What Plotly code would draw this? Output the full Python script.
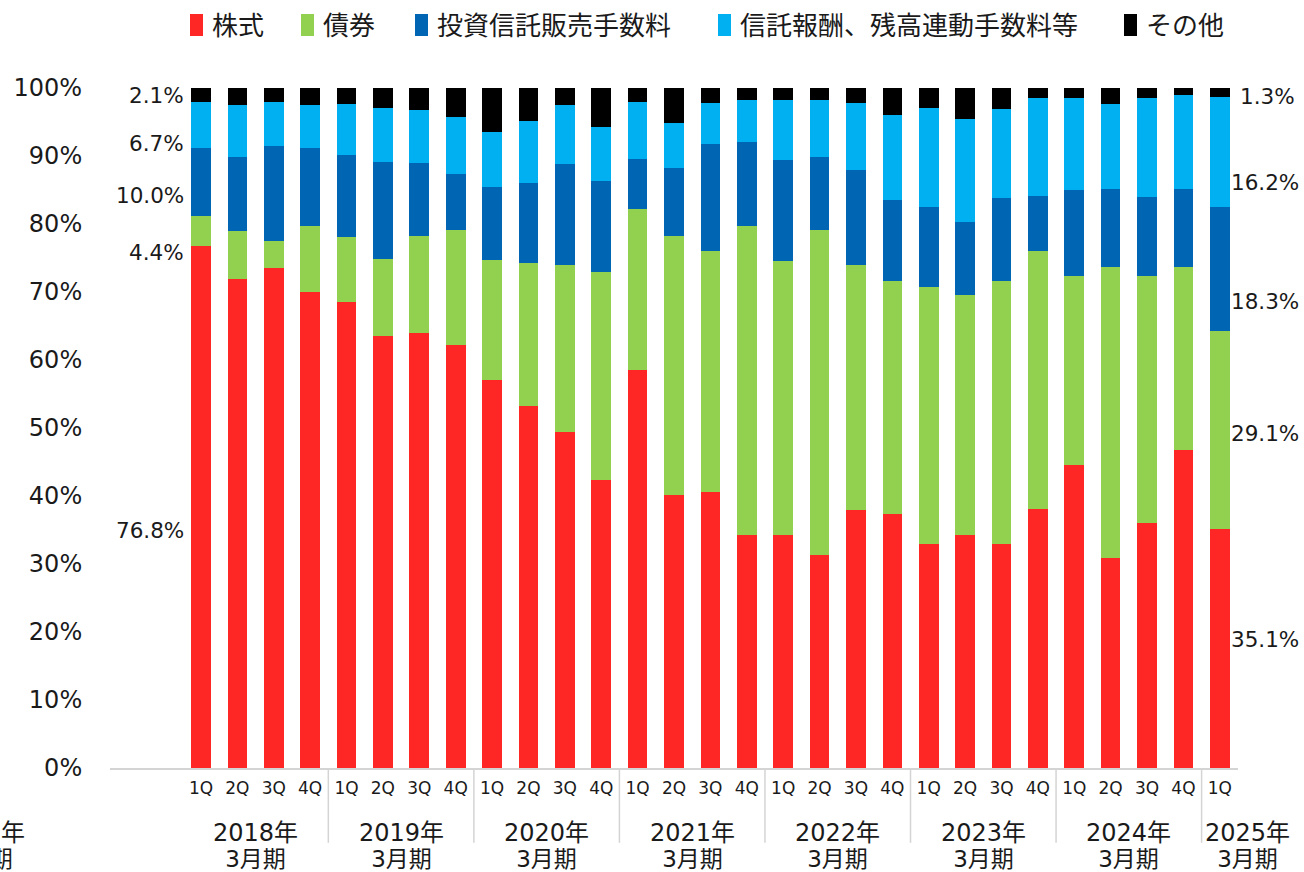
import plotly.graph_objects as go

# ---- data ----
fiscal_years = ["2018年", "2019年", "2020年", "2021年", "2022年", "2023年", "2024年", "2025年"]
quarters_per_year = [4, 4, 4, 4, 4, 4, 4, 1]
quarter_names = ["1Q", "2Q", "3Q", "4Q"]
period_suffix = "3月期"

series_names = ["株式", "債券", "投資信託販売手数料", "信託報酬、残高連動手数料等", "その他"]
series_colors = ["#FF2626", "#92D050", "#0066B3", "#00B0F0", "#000000"]

stocks = [76.8, 71.9, 73.5, 70.0, 68.5, 63.6, 63.9, 62.2, 57.1, 53.3, 49.4, 42.4, 58.5, 40.1, 40.6,
          34.2, 34.3, 31.3, 38.0, 37.4, 33.0, 34.2, 33.0, 38.1, 44.5, 30.9, 36.0, 46.8, 35.1]
bonds = [4.4, 7.1, 4.0, 9.7, 9.6, 11.3, 14.3, 16.9, 17.6, 21.0, 24.6, 30.6, 23.7, 38.2, 35.5,
         45.5, 40.2, 47.8, 36.0, 34.2, 37.8, 35.4, 38.6, 37.9, 27.8, 42.8, 36.4, 26.9, 29.1]
sales_fees = [10.0, 10.8, 13.9, 11.5, 12.0, 14.2, 10.8, 8.3, 10.8, 11.7, 14.8, 13.3, 7.3, 9.9, 15.6,
              12.4, 14.9, 10.8, 13.9, 11.9, 11.7, 10.7, 12.2, 8.1, 12.7, 11.5, 11.5, 11.4, 18.3]
trust_fees = [6.7, 7.7, 6.5, 6.3, 7.5, 7.9, 7.8, 8.3, 8.1, 9.2, 8.7, 8.0, 8.4, 6.6, 6.1,
              6.1, 8.8, 8.3, 9.9, 12.5, 14.5, 15.1, 13.1, 14.5, 13.5, 12.5, 14.7, 13.8, 16.2]
other = [2.1, 2.5, 2.1, 2.5, 2.4, 3.0, 3.2, 4.3, 6.4, 4.8, 2.5, 5.7, 2.1, 5.2, 2.2,
         1.8, 1.8, 1.8, 2.2, 4.0, 3.0, 4.6, 3.1, 1.4, 1.5, 2.3, 1.4, 1.1, 1.3]

y_tick_values = [0, 10, 20, 30, 40, 50, 60, 70, 80, 90, 100]
y_tick_labels = [f"{v}%" for v in y_tick_values]

# ---- build layout helpers ----
series_values = [stocks, bonds, sales_fees, trust_fees, other]
quarters = []
bar_year = []
for fy, nq in zip(fiscal_years, quarters_per_year):
    for q in quarter_names[:nq]:
        quarters.append(q)
        bar_year.append(fy)

n_empty = 2
positions = [n_empty + i for i in range(len(quarters))]
bar_width = 0.54

FONT = "DejaVu Sans, Noto Sans CJK JP, sans-serif"
JFONT = "Noto Sans CJK JP, DejaVu Sans, sans-serif"
TXT = "#1a1a1a"

fig = go.Figure()
for name, vals, col in zip(series_names, series_values, series_colors):
    fig.add_trace(go.Bar(
        x=positions, y=vals, name=name, width=bar_width,
        marker=dict(color=col, line=dict(width=0)),
        hoverinfo="name+y",
    ))

annotations = []
shapes = []

# data labels for first and last bars
left_shift = [-24, -22, -14, -18, 0]
right_shift = [9, -3, -32, -31, -4]
right_x = [1, 1, 1, 1, 10]
for side in ("left", "right"):
    idx = 0 if side == "left" else len(positions) - 1
    cum = 0.0
    for k, vals in enumerate(series_values):
        v = vals[idx]
        mid = cum + v / 2
        cum += v
        if side == "left":
            annotations.append(dict(
                x=positions[idx] - bar_width / 2, y=mid, xref="x", yref="y",
                text=f"{v:.1f}%", showarrow=False, xanchor="right", yanchor="middle",
                xshift=-5, yshift=left_shift[k], font=dict(family=FONT, size=21.5, color=TXT)))
        else:
            annotations.append(dict(
                x=positions[idx] + bar_width / 2, y=mid, xref="x", yref="y",
                text=f"{v:.1f}%", showarrow=False, xanchor="left", yanchor="middle",
                xshift=right_x[k] - 2, yshift=right_shift[k], font=dict(family=FONT, size=21.5, color=TXT)))


def period_label(fy):
    return (f"<span style='font-size:24px'>{fy}</span><br>"
            f"<span style='font-size:23px'>{period_suffix}</span>")


# year group labels and dividers
for gi, fy in enumerate(fiscal_years):
    pos = [p for p, y in zip(positions, bar_year) if y == fy]
    center = sum(pos) / len(pos)
    xs = 28 if len(pos) == 1 else 0
    annotations.append(dict(x=center, y=-0.114, xref="x", yref="paper", text=period_label(fy),
                            showarrow=False, xanchor="center", yanchor="middle", xshift=xs,
                            borderpad=0, font=dict(family=FONT, size=20, color=TXT)))
    if gi < len(fiscal_years) - 1:
        bx = max(pos) + 0.5
        shapes.append(dict(type="line", xref="x", yref="paper", x0=bx, x1=bx, y0=-0.003, y1=-0.11,
                           line=dict(color="#d4d4d4", width=1.5)))

# cropped previous-period label at far left
annotations.append(dict(x=-0.1126, y=-0.114, xref="paper", yref="paper", text=period_label("2017年"),
                        showarrow=False, xanchor="center", yanchor="middle", borderpad=0,
                        font=dict(family=FONT, size=20, color=TXT)))

# manual legend
legend_px = [190, 301, 415, 718, 1124]
for name, col, px in zip(series_names, series_colors, legend_px):
    x0 = (px - 110) / 1128
    x1 = (px + 13 - 110) / 1128
    shapes.append(dict(type="rect", xref="paper", yref="paper", x0=x0, x1=x1,
                       y0=(768 - 36) / 680, y1=(768 - 14) / 680, fillcolor=col, line=dict(width=0)))
    annotations.append(dict(x=(px + 20 - 110) / 1128, y=(768 - 24) / 680, xref="paper", yref="paper",
                            text=name, showarrow=False, xanchor="left", yanchor="middle",
                            font=dict(family=JFONT, size=26, color=TXT)))

fig.update_layout(
    width=1304, height=872,
    margin=dict(l=110, r=66, t=88, b=104),
    barmode="stack",
    showlegend=False,
    plot_bgcolor="white", paper_bgcolor="white",
    annotations=annotations, shapes=shapes,
    xaxis=dict(range=[-0.5, positions[-1] + 0.5], tickvals=positions, ticktext=quarters,
               tickfont=dict(family=FONT, size=17, color=TXT),
               showline=True, linecolor="#d4d4d4", linewidth=1.5, showgrid=False, zeroline=False,
               ticks="outside", ticklen=4, tickcolor="rgba(0,0,0,0)"),
    yaxis=dict(range=[0, 100], tickvals=y_tick_values, ticktext=y_tick_labels,
               tickfont=dict(family=FONT, size=24, color=TXT),
               showgrid=False, zeroline=False, showline=False,
               ticks="outside", ticklen=22, tickcolor="rgba(0,0,0,0)"),
)

fig.write_html("out.html", config={"displayModeBar": False},
               post_script="document.body.style.margin='0';document.body.style.overflow='hidden';")
